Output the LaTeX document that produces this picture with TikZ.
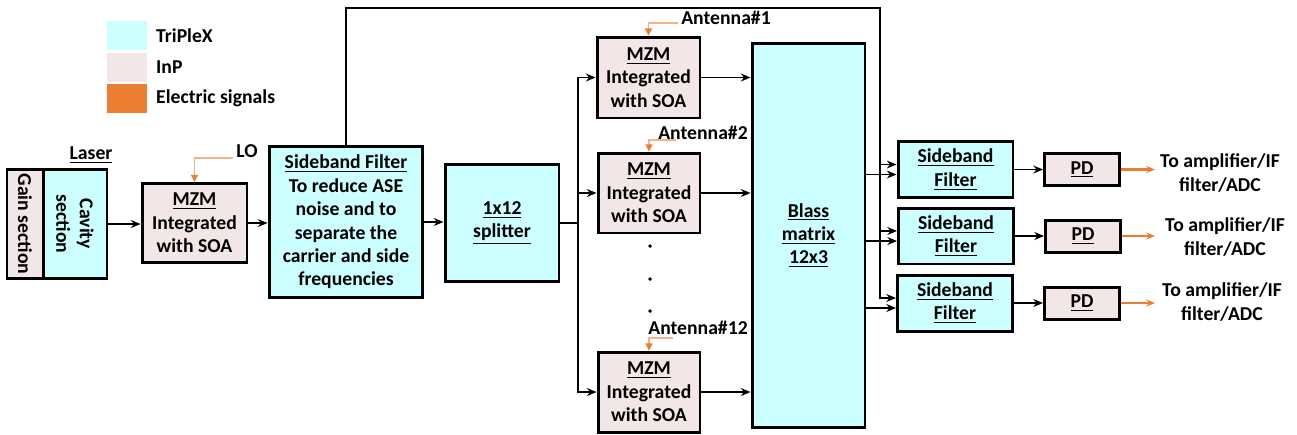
\documentclass[tikz,border=0pt]{standalone}
\usepackage{fontspec}
\setmainfont{Carlito}
\usepackage{tikz}
\usetikzlibrary{arrows.meta, positioning}
\definecolor{triplex}{HTML}{CCFFFF}
\definecolor{inp}{HTML}{F2E6E6}
\definecolor{elec}{HTML}{ED7D31}
\tikzstyle{block} = [rectangle, draw=black, line width=1.7pt, align=center, inner sep=1pt]
\tikzstyle{tpx} = [block, fill=triplex]
\tikzstyle{inpbox} = [block, fill=inp]
\tikzstyle{link} = [line width=1.1pt]
\tikzstyle{arrow} = [line width=1.1pt, -{Stealth[length=5.5pt, width=4.5pt]}]
\tikzstyle{sig} = [draw=elec!60, line width=0.6pt, -{Triangle[length=4pt, width=4pt, color=elec]}]
\tikzstyle{outsig} = [draw=elec, line width=1.4pt, -{Stealth[length=5pt, width=4pt]}]
\tikzstyle{swatch} = [rectangle, minimum width=0.8cm, minimum height=0.58cm, inner sep=0pt]

\begin{document}
\begin{tikzpicture}[x=0.02cm, y=-0.02cm, every node/.style={font=\bfseries\fontsize{11.2}{13.3}\selectfont}]
\useasboundingbox (0,0) rectangle (1297,434);

% legend
\node (keytpx) [swatch, fill=triplex] at (127,35.5) {};
\node (keyinp) [swatch, fill=inp] at (127,67.5) {};
\node (keyelec) [swatch, fill=elec] at (127,98.5) {};
\node (keytpxtext) [anchor=west] at (150,35.5) {TriPleX};
\node (keyinptext) [anchor=west] at (150,67.5) {InP};
\node (keyelectext) [anchor=west] at (150,98.5) {Electric signals};

% laser
\node (gain) [inpbox, rotate=-90, minimum width=2.18cm, minimum height=0.72cm] at (25,224) {Gain section};
\node (cavity) [tpx, rotate=-90, minimum width=2.18cm, minimum height=1.28cm] at (75,224) {Cavity\\section};
\node (laser) at (91,155) {\underline{Laser}};

% modulator and filter chain
\node (mzmlo) [inpbox, minimum width=2.1cm, minimum height=1.58cm] at (194.5,223) {\underline{MZM}\\Integrated\\with SOA};
\node (lolabel) at (247,151) {LO};
\coordinate (lo) at (233,158);
\node (sbf) [tpx, minimum width=3.08cm, minimum height=3.02cm] at (346,222) {\underline{Sideband Filter}\\To reduce ASE\\noise and to\\separate the\\carrier and side\\frequencies};
\node (split) [tpx, minimum width=2.28cm, minimum height=2.34cm] at (502,223) {\underline{1x12}\\\underline{splitter}};
\coordinate (bus) at (578,223);

% antenna modulators
\node (mzm1) [inpbox, minimum width=2.06cm, minimum height=1.62cm] at (648.5,77.5) {\underline{MZM}\\Integrated\\with SOA};
\node (mzm2) [inpbox, minimum width=2.04cm, minimum height=1.6cm] at (649,193) {\underline{MZM}\\Integrated\\with SOA};
\node (mzm12) [inpbox, minimum width=2.04cm, minimum height=1.6cm] at (649,392) {\underline{MZM}\\Integrated\\with SOA};
\node (ant1) at (726,18) {Antenna\#1};
\node (ant2) at (703,133) {Antenna\#2};
\node (ant12) at (698,328) {Antenna\#12};
\coordinate (a1) at (678,23);
\coordinate (a2) at (676,140);
\coordinate (a12) at (673,338);
\node (dotA) [circle, fill, inner sep=0.8pt] at (650,246) {};
\node (dotB) [circle, fill, inner sep=0.8pt] at (650,279) {};
\node (dotC) [circle, fill, inner sep=0.8pt] at (650,311) {};

% beamformer and receivers
\node (blass) [tpx, minimum width=2.26cm, minimum height=7.7cm] at (808.5,235.5) {\underline{Blass}\\\underline{matrix}\\\underline{12x3}};
\coordinate (fb) at (880,8);
\node (sbf1) [tpx, minimum width=2.3cm, minimum height=1.12cm] at (955.5,169.5) {\underline{Sideband}\\\underline{Filter}};
\node (sbf2) [tpx, minimum width=2.3cm, minimum height=1.12cm] at (956,236) {\underline{Sideband}\\\underline{Filter}};
\node (sbf3) [tpx, minimum width=2.3cm, minimum height=1.12cm] at (955,303) {\underline{Sideband}\\\underline{Filter}};
\node (pd1) [inpbox, minimum width=1.5cm, minimum height=0.64cm] at (1082,169.5) {\underline{PD}};
\node (pd2) [inpbox, minimum width=1.5cm, minimum height=0.64cm] at (1083,236) {\underline{PD}};
\node (pd3) [inpbox, minimum width=1.5cm, minimum height=0.64cm] at (1082,303) {\underline{PD}};
\coordinate (o1) at (1155,169.5);
\coordinate (o2) at (1155,236);
\coordinate (o3) at (1155,303);
\node (txt1) [align=center] at (1220,173) {To amplifier/IF\\filter/ADC};
\node (txt2) [align=center] at (1225,237) {To amplifier/IF\\filter/ADC};
\node (txt3) [align=center] at (1222,302) {To amplifier/IF\\filter/ADC};

% connectors
\draw [arrow] (cavity.north) -- (cavity.north -| mzmlo.west);
\draw [sig] (lo) -| (mzmlo.north);
\draw [arrow] (mzmlo.east) -- (mzmlo.east -| sbf.west);
\draw [arrow] (sbf.east) -- (sbf.east -| split.west);
\draw [link] (split.east) -- (bus);
\draw [arrow] (bus) |- (mzm1.west);
\draw [arrow] (bus) |- (mzm2.west);
\draw [arrow] (bus) |- (mzm12.west);
\draw [sig] (a1) -| (mzm1.north);
\draw [sig] (a2) -| (mzm2.north);
\draw [sig] (a12) -| (mzm12.north);
\draw [arrow] (mzm1.east) -- (mzm1.east -| blass.west);
\draw [arrow] (mzm2.east) -- (mzm2.east -| blass.west);
\draw [arrow] (mzm12.east) -- (mzm12.east -| blass.west);
\draw [arrow] (sbf.north) |- (fb) |- ([yshift=0.1cm]sbf3.west);
\draw [arrow] ([yshift=0.1cm]sbf1.west -| fb) -- ([yshift=0.1cm]sbf1.west);
\draw [arrow] ([yshift=0.1cm]sbf2.west -| fb) -- ([yshift=0.1cm]sbf2.west);
\draw [arrow] ([yshift=-0.1cm]sbf1.west -| blass.east) -- ([yshift=-0.1cm]sbf1.west);
\draw [arrow] ([yshift=-0.1cm]sbf2.west -| blass.east) -- ([yshift=-0.1cm]sbf2.west);
\draw [arrow] ([yshift=-0.1cm]sbf3.west -| blass.east) -- ([yshift=-0.1cm]sbf3.west);
\draw [arrow] (sbf1.east) -- (sbf1.east -| pd1.west);
\draw [arrow] (sbf2.east) -- (sbf2.east -| pd2.west);
\draw [arrow] (sbf3.east) -- (sbf3.east -| pd3.west);
\draw [outsig] (pd1.east) -- (o1);
\draw [outsig] (pd2.east) -- (o2);
\draw [outsig] (pd3.east) -- (o3);

\end{tikzpicture}
\end{document}
